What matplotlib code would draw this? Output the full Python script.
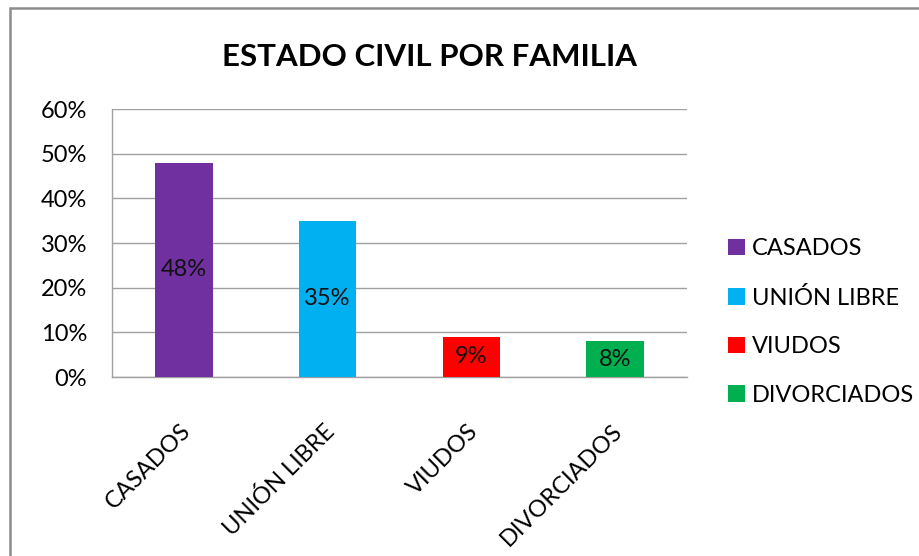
import matplotlib.pyplot as plt
from matplotlib.patches import Rectangle
from matplotlib.ticker import PercentFormatter
from matplotlib.transforms import ScaledTranslation

# datos del gráfico
categorias = ["CASADOS", "UNIÓN LIBRE", "VIUDOS", "DIVORCIADOS"]
porcentajes = [48, 35, 9, 8]
colores = ["#7030A0", "#00B0F0", "#FF0000", "#00B050"]
titulo = "ESTADO CIVIL POR FAMILIA"

plt.rcParams["font.family"] = ["Lato", "DejaVu Sans"]

fig = plt.figure(figsize=(9.2, 5.56), dpi=100)
fig.patch.set_facecolor("white")

# marco del área del gráfico (estilo Excel)
fig.patches.append(Rectangle((10 / 920, -0.05), 1.0, 1 - 8 / 556 + 0.05,
                             transform=fig.transFigure, fill=False,
                             edgecolor="#8C8C8C", linewidth=1.8))

ax = fig.add_axes([112 / 920, 179 / 556, 575 / 920, 268 / 556])

x = range(len(categorias))
bars = ax.bar(x, porcentajes, width=0.40, color=colores, label=categorias, zorder=3)

for b, v in zip(bars, porcentajes):
    ax.text(b.get_x() + b.get_width() / 2, v / 2, f"{v}%",
            ha="center", va="center", fontsize=17, color="#111111", zorder=4)

ax.set_xlim(-0.5, len(categorias) - 0.5)
ax.set_ylim(0, 60)
ax.set_yticks(range(0, 61, 10))
ax.yaxis.set_major_formatter(PercentFormatter(decimals=0))
ax.grid(axis="y", color="#A0A0A0", linewidth=1.0, zorder=0)

ax.set_xticks(list(x))
ax.set_xticklabels(categorias, rotation=45, ha="right", va="top",
                   rotation_mode="anchor", fontsize=17)
ax.tick_params(axis="x", length=0, pad=31)
ax.tick_params(axis="y", length=0, pad=18, labelsize=17)
desplaza = ScaledTranslation(-4 / 100, 0, fig.dpi_scale_trans)
for lbl in ax.get_xticklabels():
    lbl.set_transform(lbl.get_transform() + desplaza)

for s in ["top", "right"]:
    ax.spines[s].set_visible(False)
for s in ["left", "bottom"]:
    ax.spines[s].set_color("#A0A0A0")
    ax.spines[s].set_linewidth(1.0)

leg = ax.legend(handles=bars, labels=categorias, loc="center left",
                bbox_to_anchor=(1.055, 0.205), frameon=False, fontsize=17,
                handlelength=0.7, handleheight=0.7, handletextpad=0.3,
                labelspacing=1.17, borderaxespad=0)

fig.text(430 / 920, 1 - 57 / 556, titulo, ha="center", va="center",
         fontsize=22.5, fontweight="bold", color="black")

fig.savefig("out.png", dpi=100)
